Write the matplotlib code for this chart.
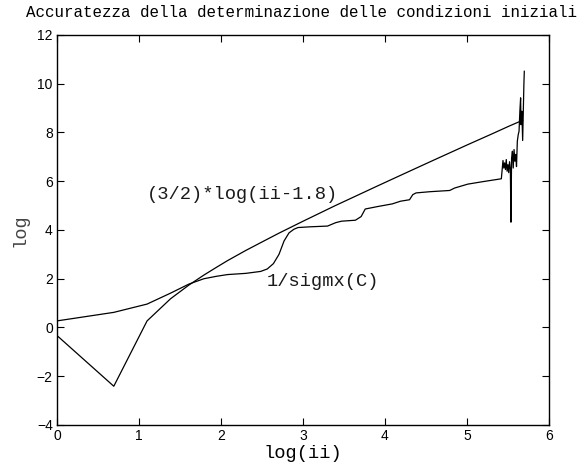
import numpy as np
import matplotlib
matplotlib.use('Agg')
import matplotlib.pyplot as plt

# (3/2)*log(ii-1.8), x = log(ii)
x_fit = [0.0, 0.693, 1.099, 1.386, 1.609, 1.792, 1.946, 2.079, 2.303, 2.485,
         2.708, 2.996, 3.401, 3.689, 3.912, 4.248, 4.605, 5.011, 5.298, 5.521, 5.680]
y_fit = [-0.33, -2.41, 0.27, 1.18, 1.74, 2.15, 2.47, 2.74, 3.16, 3.48,
         3.87, 4.35, 5.01, 5.46, 5.81, 6.33, 6.88, 7.50, 7.93, 8.27, 8.50]

# 1/sigmx(C)
x_sig = [0.0, 0.693, 1.099, 1.386, 1.609, 1.792, 1.946, 2.079, 2.303, 2.485,
         2.565, 2.640, 2.708, 2.770, 2.830, 2.890, 2.940, 3.090, 3.300, 3.400,
         3.470, 3.640, 3.710, 3.760, 3.910, 4.090, 4.190, 4.300, 4.340, 4.380,
         4.550, 4.790, 4.850, 5.010, 5.190, 5.420,
         5.440, 5.450, 5.460, 5.470, 5.480, 5.490, 5.500, 5.510, 5.520, 5.530,
         5.537, 5.545, 5.555, 5.565, 5.575, 5.585, 5.595, 5.605, 5.615, 5.626,
         5.636, 5.646, 5.655, 5.660, 5.670, 5.680, 5.687, 5.695, 5.700]
y_sig = [0.27, 0.62, 0.96, 1.41, 1.78, 2.00, 2.10, 2.17, 2.22, 2.30,
         2.40, 2.62, 3.00, 3.55, 3.88, 4.03, 4.10, 4.13, 4.16, 4.30,
         4.36, 4.40, 4.55, 4.86, 4.96, 5.07, 5.18, 5.24, 5.45, 5.52,
         5.57, 5.62, 5.72, 5.88, 5.98, 6.10,
         6.85, 6.54, 6.75, 6.48, 6.89, 6.41, 6.68, 6.35, 6.80, 6.50,
         4.32, 6.95, 7.23, 6.54, 7.30, 6.82, 7.10, 6.60, 7.64, 7.91,
         8.05, 8.87, 9.42, 8.32, 8.87, 7.67, 8.73, 9.97, 10.51]

fig = plt.figure(figsize=(5.79, 4.66), dpi=100)
ax = fig.add_axes([0.0984, 0.088, 0.8496, 0.837])

ax.plot(x_fit, y_fit, '-', color='black', lw=0.9)
ax.plot(x_sig, y_sig, '-', color='black', lw=0.9)

ax.text(1.10, 5.46, '(3/2)*log(ii-1.8)', family='Liberation Mono', fontsize=13.5,
        va='center', ha='left', color='#1a1a1a')
ax.text(2.56, 1.89, '1/sigmx(C)', family='Liberation Mono', fontsize=13.5,
        va='center', ha='left', color='#1a1a1a')

ax.set_xlim(0, 6)
ax.set_ylim(-4, 12)
ax.set_xticks(np.arange(0, 7, 1))
ax.set_yticks(np.arange(-4, 13, 2))
ax.tick_params(direction='in', length=5, width=0.8, top=True, right=True,
               labelsize=10, pad=3)
for lab in ax.get_xticklabels() + ax.get_yticklabels():
    lab.set_family('Liberation Sans')
for sp in ax.spines.values():
    sp.set_linewidth(1.0)

ax.set_xlabel('log(ii)', family='Liberation Mono', fontsize=13.5, labelpad=1)
ax.set_ylabel('log', family='Liberation Mono', fontsize=13.5, color='#444444', labelpad=6)
fig.text(0.521, 0.974, 'Accuratezza della determinazione delle condizioni iniziali',
         family='Liberation Mono', fontsize=11.4, ha='center', va='center')

plt.savefig('out.png')
